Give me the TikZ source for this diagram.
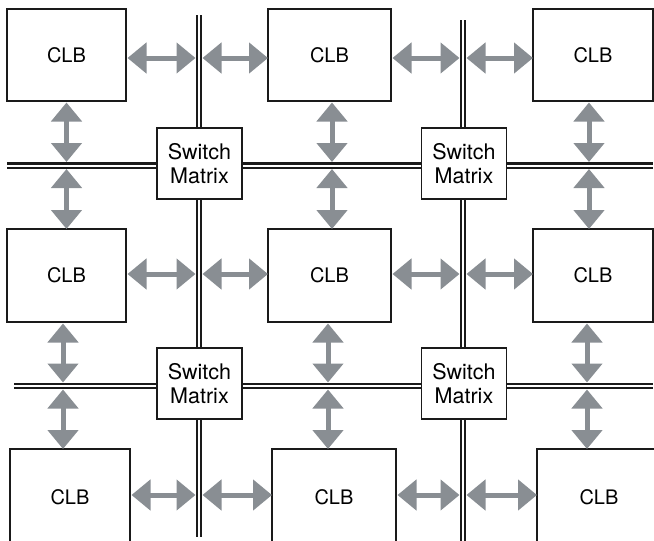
\documentclass[tikz,border=0pt]{standalone}
\usepackage{fontspec}
\setmainfont{TeX Gyre Heros}
\usetikzlibrary{arrows.meta}
\definecolor{arrowgray}{HTML}{898E93}
\definecolor{ink}{HTML}{1A1A1A}
\tikzset{
  clb/.style={draw=ink, line width=1.1pt, fill=white, inner sep=0pt, outer sep=0pt,
    font=\fontsize{20}{23.5}\selectfont},
  switchbox/.style={draw=ink, line width=1.1pt, fill=white, inner sep=0pt, outer sep=0pt,
    minimum width=85pt, minimum height=71pt, align=center,
    font=\fontsize{21.5}{23.5}\selectfont},
  rail/.style={draw=ink, line width=2.2pt, double=white, double distance=2pt},
  biarrow/.style={draw=arrowgray, line width=5pt,
    {Triangle[width=30pt,length=19pt]}-{Triangle[width=30pt,length=19pt]}},
}
\begin{document}
\begin{tikzpicture}[x=1pt,y=-1pt]
\useasboundingbox (0,0) rectangle (654,541);
\clip (0,0) rectangle (654,541);
% rail coordinates
\coordinate (v1t) at (199,15);  \coordinate (v1b) at (199,537);
\coordinate (v2t) at (463,20);  \coordinate (v2b) at (463,545);
\coordinate (h1l) at (7,165.5); \coordinate (h1r) at (653,165.5);
\coordinate (h2l) at (14,386);  \coordinate (h2r) at (653,386);
% rail sides (where arrow tips touch)
\coordinate (v1L) at (195.5,0); \coordinate (v1R) at (202.5,0);
\coordinate (v2L) at (459.5,0); \coordinate (v2R) at (466.5,0);
\coordinate (h1T) at (0,162);   \coordinate (h1B) at (0,169);
\coordinate (h2T) at (0,382.5); \coordinate (h2B) at (0,389.5);
% rails
\draw[rail] (v1t) -- (v1b);
\draw[rail] (v2t) -- (v2b);
\draw[rail] (h1l) -- (h1r);
\draw[rail] (h2l) -- (h2r);
% CLBs
\node[clb, minimum width=119pt, minimum height=92pt] (c11) at (66.5,55) {CLB};
\node[clb, minimum width=123pt, minimum height=92pt] (c12) at (329.5,55) {CLB};
\node[clb, minimum width=120pt, minimum height=92pt] (c13) at (593,55) {CLB};
\node[clb, minimum width=119pt, minimum height=93pt] (c21) at (66.5,275.5) {CLB};
\node[clb, minimum width=123pt, minimum height=93pt] (c22) at (329.5,275.5) {CLB};
\node[clb, minimum width=120pt, minimum height=93pt] (c23) at (593,275.5) {CLB};
\node[clb, minimum width=120pt, minimum height=96pt] (c31) at (70,497) {CLB};
\node[clb, minimum width=124pt, minimum height=96pt] (c32) at (334,497) {CLB};
\node[clb, minimum width=124pt, minimum height=96pt] (c33) at (599,497) {CLB};
% switch matrices
\node[switchbox] (s1) at (199.5,163.5) {Switch\\Matrix};
\node[switchbox] (s2) at (464,163.5) {Switch\\Matrix};
\node[switchbox] (s3) at (199.5,383.5) {Switch\\Matrix};
\node[switchbox] (s4) at (464,383.5) {Switch\\Matrix};
% horizontal arrows, row 1 (y = 58)
\draw[biarrow] ([xshift=1.5pt,yshift=-3pt]c11.east) -- ([yshift=-3pt]c11.east -| v1L);
\draw[biarrow] ([yshift=-3pt]c12.west -| v1R) -- ([yshift=-3pt]c12.west);
\draw[biarrow] ([xshift=1.5pt,yshift=-3pt]c12.east) -- ([yshift=-3pt]c12.east -| v2L);
\draw[biarrow] ([yshift=-3pt]c13.west -| v2R) -- ([yshift=-3pt]c13.west);
% row 2 (y = 274)
\draw[biarrow] ([xshift=1.5pt,yshift=1.5pt]c21.east) -- ([yshift=1.5pt]c21.east -| v1L);
\draw[biarrow] ([yshift=1.5pt]c22.west -| v1R) -- ([yshift=1.5pt]c22.west);
\draw[biarrow] ([xshift=1.5pt,yshift=1.5pt]c22.east) -- ([yshift=1.5pt]c22.east -| v2L);
\draw[biarrow] ([yshift=1.5pt]c23.west -| v2R) -- ([yshift=1.5pt]c23.west);
% row 3 (y = 495)
\draw[biarrow] ([xshift=1.5pt,yshift=2pt]c31.east) -- ([yshift=2pt]c31.east -| v1L);
\draw[biarrow] ([yshift=2pt]c32.west -| v1R) -- ([yshift=2pt]c32.west);
\draw[biarrow] ([xshift=1.5pt,yshift=2pt]c32.east) -- ([yshift=2pt]c32.east -| v2L);
\draw[biarrow] ([yshift=2pt]c33.west -| v2R) -- ([yshift=2pt]c33.west);
% vertical arrows, rows 1-2
\draw[biarrow] ([yshift=-1.5pt]c11.south) -- (c11.south |- h1T);
\draw[biarrow] (c21.north |- h1B) -- (c21.north);
\draw[biarrow] ([xshift=2.5pt,yshift=-1.5pt]c12.south) -- ([xshift=2.5pt]c12.south |- h1T);
\draw[biarrow] ([xshift=2.5pt]c22.north |- h1B) -- ([xshift=2.5pt]c22.north);
\draw[biarrow] ([xshift=-4pt,yshift=-1.5pt]c13.south) -- ([xshift=-4pt]c13.south |- h1T);
\draw[biarrow] ([xshift=-4pt]c23.north |- h1B) -- ([xshift=-4pt]c23.north);
% vertical arrows, rows 2-3
\draw[biarrow] ([xshift=-3.5pt,yshift=-1.5pt]c21.south) -- ([xshift=-3.5pt]c21.south |- h2T);
\draw[biarrow] ([xshift=-7pt]c31.north |- h2B) -- ([xshift=-7pt]c31.north);
\draw[biarrow] ([xshift=-1.5pt,yshift=-1.5pt]c22.south) -- ([xshift=-1.5pt]c22.south |- h2T);
\draw[biarrow] ([xshift=-6pt]c32.north |- h2B) -- ([xshift=-6pt]c32.north);
\draw[biarrow] ([xshift=-6pt,yshift=-1.5pt]c23.south) -- ([xshift=-6pt]c23.south |- h2T);
\draw[biarrow] ([xshift=-12pt]c33.north |- h2B) -- ([xshift=-12pt]c33.north);
\end{tikzpicture}
\end{document}
